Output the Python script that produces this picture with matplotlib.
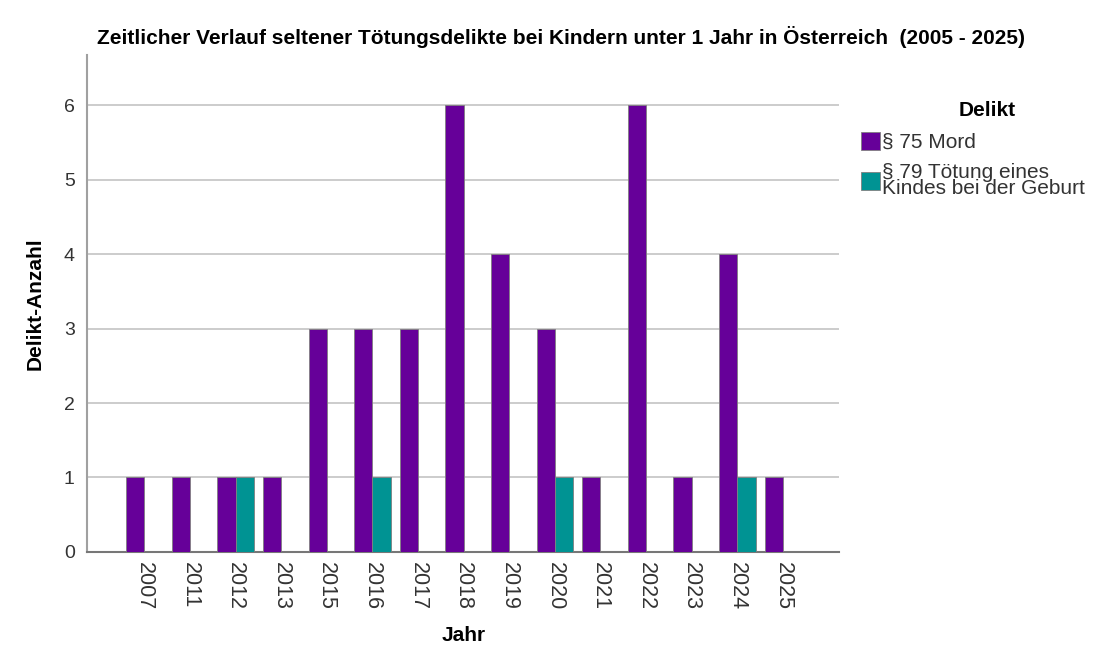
import numpy as np
import matplotlib
matplotlib.use("Agg")
import matplotlib.pyplot as plt

plt.rcParams['font.family'] = ['Liberation Sans', 'DejaVu Sans']

jahre = ['2007', '2011', '2012', '2013', '2015', '2016', '2017', '2018',
         '2019', '2020', '2021', '2022', '2023', '2024', '2025']
mord = [1, 1, 1, 1, 3, 3, 3, 6, 4, 3, 1, 6, 1, 4, 1]
toetung = [0, 0, 1, 0, 0, 1, 0, 0, 0, 1, 0, 0, 0, 1, 0]
labels = ['§ 75 Mord', '§ 79 Tötung eines\nKindes bei der Geburt']
farben = ['#660099', '#009393']

fig = plt.figure(figsize=(11.03, 6.53), dpi=100)
ax = fig.add_axes([0.0792, 0.155, 0.6815, 0.761])

x = np.arange(len(jahre))
b = 0.4
ax.bar(x - b / 2, mord, b, color=farben[0], edgecolor='#808080', linewidth=0.6,
       label=labels[0], zorder=3)
ax.bar(x + b / 2, toetung, b, color=farben[1], edgecolor='#808080', linewidth=0.6,
       label=labels[1], zorder=3)

ax.set_xlim(-1.25, 15.23)
ax.set_ylim(0, 6.68)
ax.set_yticks(range(0, 7))
ax.set_xticks(x)
ax.set_xticklabels(jahre, rotation=270, fontsize=15.5, color='#333333')
ax.tick_params(axis='y', labelsize=14, labelcolor='#333333', length=0, pad=9)
ax.tick_params(axis='x', length=0, pad=7)
ax.yaxis.grid(True, color='#c8c8c8', linewidth=1.3, zorder=0)
ax.set_axisbelow(True)
for s in ['top', 'right']:
    ax.spines[s].set_visible(False)
ax.spines['left'].set_color('#a0a0a0')
ax.spines['left'].set_linewidth(1.5)
ax.spines['bottom'].set_color('#777777')
ax.spines['bottom'].set_linewidth(1.5)

ax.set_xlabel('Jahr', fontsize=15, fontweight='bold', labelpad=12)
ax.set_ylabel('Delikt-Anzahl', fontsize=15, fontweight='bold', labelpad=14)

fig.text(0.509, 0.943, 'Zeitlicher Verlauf seltener Tötungsdelikte bei Kindern unter 1 Jahr in Österreich  (2005 - 2025)',
         ha='center', va='center', fontsize=15, fontweight='bold')

# Legendentitel separat, Legende darunter
fig.text(987 / 1103, 1 - 110 / 653, 'Delikt', ha='center', va='center',
         fontsize=15, fontweight='bold')
leg = fig.legend(loc='upper left', bbox_to_anchor=(861 / 1103, 1 - 132 / 653),
                 frameon=False, fontsize=15, handlelength=0.9, handleheight=0.95,
                 handletextpad=0.1, labelspacing=0.5, borderaxespad=0, borderpad=0)
for t in leg.get_texts():
    t.set_color('#333333')
    t.set_linespacing(0.85)

fig.savefig('out.png', dpi=100)
